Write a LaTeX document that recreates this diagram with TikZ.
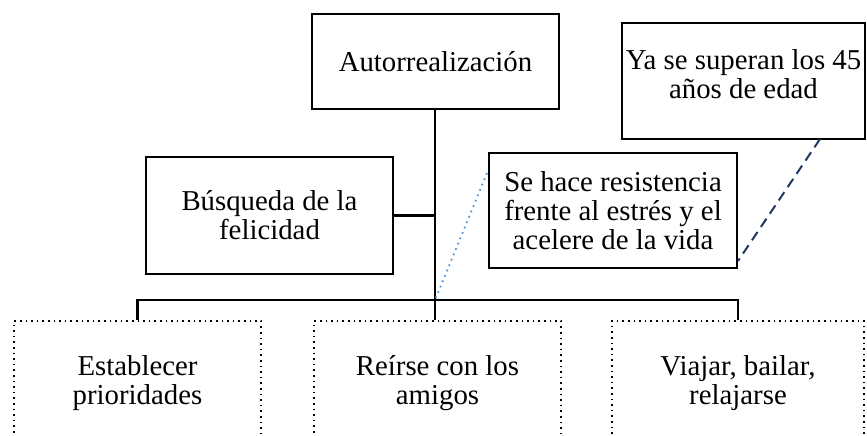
\documentclass[tikz,border=0pt]{standalone}
\usepackage{fontspec}
\setmainfont{Liberation Serif}
\begin{document}
\begin{tikzpicture}[x=0.5pt,y=-0.5pt,
  solidbox/.style={draw=black,line width=1pt,rectangle,inner sep=2pt,align=center,
    font=\fontsize{14.4}{14.6}\selectfont},
  plaintext/.style={inner sep=0pt,align=center,font=\fontsize{14.4}{14.6}\selectfont},
  dotbox/.style={draw=black,line width=0.8pt,dotted,rectangle,inner sep=2pt,align=center,
    font=\fontsize{14.4}{14.6}\selectfont},
  conn/.style={draw=black,line width=1.1pt},
  lightdot/.style={draw={rgb,255:red,91;green,155;blue,213},line width=0.9pt,dotted},
  darkdash/.style={draw={rgb,255:red,31;green,56;blue,100},line width=1pt,dash pattern=on 5pt off 3pt}]
\useasboundingbox (0,0) rectangle (867,435);
\clip (0,0) rectangle (867,435);
\node[solidbox,minimum width=123.5pt,minimum height=47.5pt] (auto) at (435.5,61.5) {Autorrealización};
\node[solidbox,minimum width=121.5pt,minimum height=58pt] (ya) at (743.5,81) {};
\node[plaintext] (yatext) at (743.5,74) {Ya se superan los 45\\años de edad};
\node[solidbox,minimum width=124pt,minimum height=57.5pt] (se) at (613,210.5) {Se hace resistencia\\frente al estrés y el\\acelere de la vida};
\node[solidbox,minimum width=123.5pt,minimum height=58.5pt] (busq) at (269.5,215.5) {Búsqueda de la\\felicidad};
\node[dotbox,minimum width=123.5pt,minimum height=62pt] (b1) at (137.5,383) {Establecer\\prioridades};
\node[dotbox,minimum width=123.5pt,minimum height=62pt] (b2) at (437.5,383) {Reírse con los\\amigos};
\node[dotbox,minimum width=126pt,minimum height=62pt] (b3) at (738,383) {Viajar, bailar,\\relajarse};
\coordinate (j) at (435,300);
\coordinate (dotstart) at (487,173);
\coordinate (dashstart) at (820,139);
\coordinate (dashend) at (738,261);
\draw[conn] (auto.south -| j) -- (j);
\draw[conn] (busq.east) -- (busq.east -| j);
\draw[conn] (b1.north) |- (j) -| (b3.north);
\draw[conn] (j) -- (j |- b2.north);
\draw[lightdot] (dotstart) -- (j);
\draw[darkdash] (dashstart) -- (dashend);
\end{tikzpicture}
\end{document}
